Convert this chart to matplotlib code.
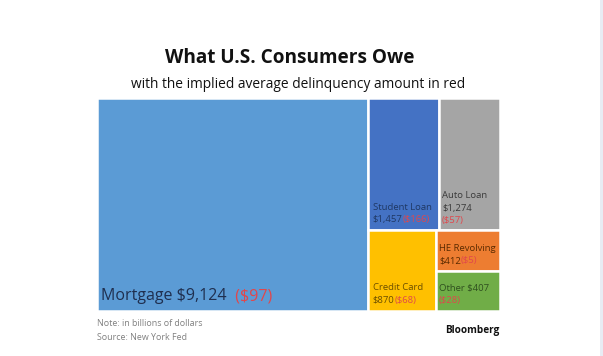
import matplotlib.pyplot as plt
from matplotlib.patches import Rectangle

# consumer debt, billions of dollars, and implied avg delinquency amount
categories = ["Mortgage", "Student Loan", "Auto Loan", "Credit Card", "HE Revolving", "Other"]
owed = [9124, 1457, 1274, 870, 412, 407]
owed_labels = ["$9,124", "$1,457", "$1,274", "$870", "$412", "$407"]
delinq_labels = ["($97)", "($166)", "($57)", "($68)", "($5)", "($28)"]

colors = ["#5B9BD5", "#4472C4", "#A5A5A5", "#FFC000", "#ED7D31", "#70AD47"]
text_colors = ["#1F2F4F", "#1F3864", "#3A3A3A", "#6B4E00", "#5A2A00", "#2F4F1F"]
red = "#E0474C"

plt.rcParams['font.family'] = ['Open Sans', 'DejaVu Sans']

fig = plt.figure(figsize=(6.03, 3.56), dpi=100)
ax = fig.add_axes([97 / 603, 45 / 356, 403 / 603, 213 / 356])
ax.set_xlim(0, 1)
ax.set_ylim(0, 1)
ax.axis('off')

total = sum(owed)
rest = total - owed[0]
w0 = owed[0] / total

# treemap split: mortgage full height, rest split into top row / bottom row
rects = {}
rects[0] = (0, 0, w0, 1)
top = owed[1] + owed[2]
h_top = top / rest
x = w0
for i in (1, 2):
    w = (1 - w0) * owed[i] / top
    rects[i] = (x, 1 - h_top, w, h_top)
    x += w
bot = owed[3] + owed[4] + owed[5]
h_bot = 1 - h_top
w_cc = (1 - w0) * owed[3] / bot
rects[3] = (w0, 0, w_cc, h_bot)
stack = owed[4] + owed[5]
y = h_bot
for i in (4, 5):
    h = h_bot * owed[i] / stack
    y -= h
    rects[i] = (w0 + w_cc, y, 1 - w0 - w_cc, h)

for i in range(len(categories)):
    rx, ry, rw, rh = rects[i]
    ax.add_patch(Rectangle((rx, ry), rw, rh, facecolor=colors[i],
                           edgecolor='white', linewidth=1.8))

# mortgage label
rx, ry, rw, rh = rects[0]
t = ax.annotate(f"{categories[0]} {owed_labels[0]}", (rx, ry), xytext=(3, 5),
                textcoords='offset points', fontsize=11.5, color=text_colors[0],
                va='bottom', ha='left')
ax.annotate("  " + delinq_labels[0], (1, 0), xycoords=t, xytext=(0, 0),
            textcoords='offset points', fontsize=11.5, color=red, va='bottom', ha='left')

small = 6.8
line_gap = 9.0


def label_lines(i, lines, dx=3, dy=7.2):
    # lines listed top to bottom, each a list of (text, colour) pieces
    rx, ry, rw, rh = rects[i]
    n = len(lines)
    for k, pieces in enumerate(lines):
        yoff = dy + line_gap * (n - 1 - k)
        prev = None
        for txt, col in pieces:
            if prev is None:
                prev = ax.annotate(txt, (rx, ry), xytext=(dx, yoff),
                                   textcoords='offset points', fontsize=small,
                                   color=col, va='center', ha='left')
            else:
                prev = ax.annotate(txt, (1, 0.5), xycoords=prev, fontsize=small,
                                   color=col, va='center', ha='left')


label_lines(1, [[(categories[1], text_colors[1])],
                [(owed_labels[1], text_colors[1]), (delinq_labels[1], red)]], dy=7.2)
label_lines(2, [[(categories[2], text_colors[2])],
                [(owed_labels[2], text_colors[2])],
                [(delinq_labels[2], red)]], dx=2.5, dy=6.5)
label_lines(3, [[(categories[3], text_colors[3])],
                [(owed_labels[3], text_colors[3]), (delinq_labels[3], red)]], dy=7.8)
label_lines(4, [[(categories[4], text_colors[4])],
                [(owed_labels[4], text_colors[4]), (delinq_labels[4], red)]], dx=2, dy=7.2)
label_lines(5, [[(f"{categories[5]} {owed_labels[5]}", text_colors[5])],
                [(delinq_labels[5], red)]], dx=2, dy=7.8)

fig.text(290 / 603, 1 - 58 / 356, "What U.S. Consumers Owe", ha='center', va='center',
         fontsize=13.7, fontweight='bold', color='#111111')
fig.text(298 / 603, 1 - 84 / 356, "with the implied average delinquency amount in red",
         ha='center', va='center', fontsize=9.9, color='#111111')
fig.text(97 / 603, 1 - 324 / 356, "Note: in billions of dollars", ha='left', va='center',
         fontsize=6.4, color='#808080')
fig.text(97 / 603, 1 - 337 / 356, "Source: New York Fed", ha='left', va='center',
         fontsize=6.4, color='#808080')
fig.text(445 / 603, 1 - 331 / 356, "Bloomberg", ha='left', va='center',
         fontsize=7.2, fontweight='bold', color='#111111')

# right edge strip of the screenshot
fig.add_artist(Rectangle((600 / 603, 0), 3 / 603, 1, transform=fig.transFigure,
                         facecolor='#E8ECF4', edgecolor='none'))

fig.savefig("out.png", dpi=100)
